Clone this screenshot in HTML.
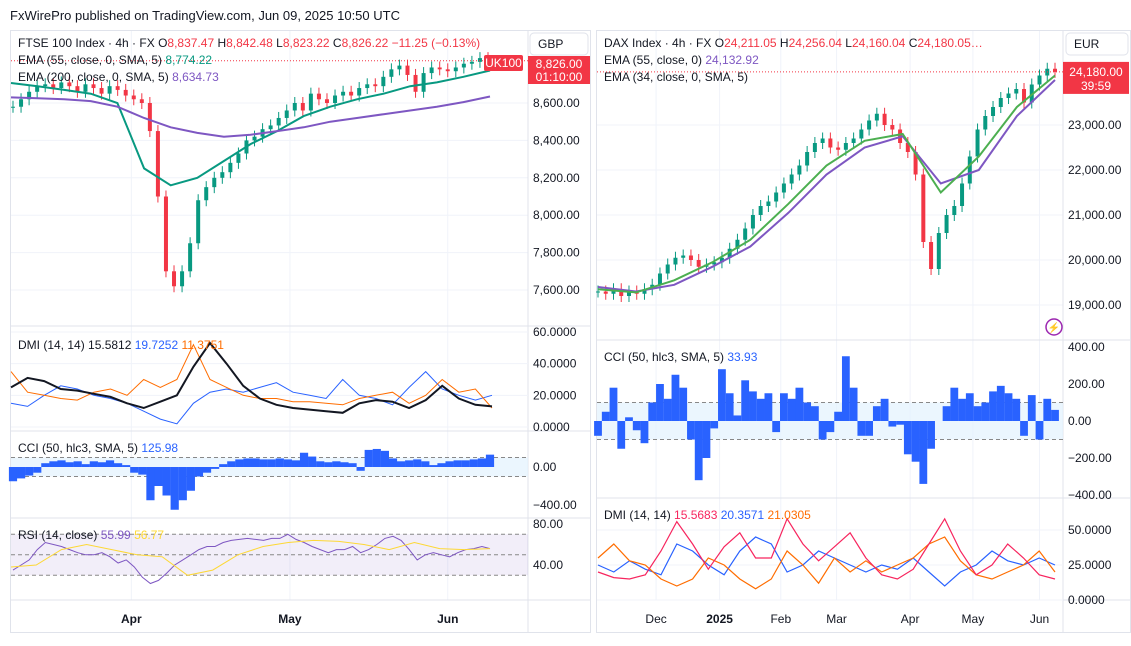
<!DOCTYPE html>
<html><head><meta charset="utf-8"><style>
body{margin:0;background:#fff;font-family:"Liberation Sans",sans-serif}
svg text{font-family:"Liberation Sans",sans-serif}
</style></head><body>
<svg id="s" width="1131" height="641" viewBox="0 0 1131 641" xmlns="http://www.w3.org/2000/svg">
<rect width="1131" height="641" fill="#fff"/>
<text x="10" y="20" font-size="13" fill="#131722">FxWirePro published on TradingView.com, Jun 09, 2025 10:50 UTC</text>
<rect x="10.5" y="30.5" width="580" height="602" fill="none" stroke="#e0e3eb"/>
<rect x="596.5" y="30.5" width="534" height="602" fill="none" stroke="#e0e3eb"/>
<g id="g"></g>
</svg>
<script>
// ---------- FTSE data ----------
const ftseClose=[8580,8620,8660,8690,8700,8680,8710,8690,8660,8700,8680,8650,8690,8670,8640,8620,8600,8450,8100,7700,7620,7700,7850,8080,8150,8200,8230,8280,8330,8400,8420,8460,8480,8520,8560,8600,8560,8650,8620,8600,8640,8660,8640,8680,8700,8690,8740,8780,8800,8750,8660,8760,8790,8780,8770,8790,8810,8820,8840,8826];
const ftseEma55=[8707,8690,8670,8650,8600,8250,8160,8200,8290,8380,8450,8530,8580,8620,8650,8690,8710,8740,8774];
const ftseEma200=[8630,8625,8620,8610,8580,8520,8470,8440,8420,8430,8450,8470,8500,8520,8540,8560,8580,8605,8635];
const ftseAdx=[25,31,29,24,23,21,19,15,12,16,20,38,53,40,26,18,14,12,11,10,9,15,17,16,12,17,26,18,14,13];
const ftsePdi=[15,13,20,26,24,20,18,15,10,5,2,15,22,24,22,25,28,22,20,18,30,20,18,14,25,35,24,20,17,20];
const ftseMdi=[35,22,20,18,17,22,24,20,30,25,30,52,30,25,20,18,18,16,16,15,14,18,20,22,15,20,30,22,24,12];
const ftseCci=[-150,-120,-90,-60,40,60,70,50,60,30,60,50,70,40,20,-60,-80,-350,-200,-300,-450,-350,-250,-100,-60,-20,30,60,80,90,90,80,80,90,80,70,150,110,60,50,60,50,40,-40,180,190,170,90,60,70,80,60,20,40,60,70,70,80,90,130];
const ftseRsi=[35,40,45,55,62,60,58,55,52,50,50,52,48,42,45,38,28,22,25,32,40,45,50,55,58,58,62,64,65,66,65,64,66,66,70,65,62,58,55,52,55,55,58,52,55,60,66,68,64,55,45,50,52,50,48,52,55,56,58,56];
const ftseRsiMa=[38,40,55,60,55,50,48,30,35,50,58,62,64,63,60,55,62,56,55,56];
const ftseTicks=[8600,8400,8200,8000,7800,7600];
const ftseMonths=[["Apr",14.7],["May",34.4],["Jun",54]];
// ---------- DAX data ----------
const daxClose=[19300,19250,19350,19200,19300,19250,19350,19450,19700,19900,20050,20100,20000,19850,19900,19950,20050,20250,20450,20700,21000,21200,21300,21500,21700,21900,22100,22400,22600,22700,22500,22450,22600,22700,22900,23100,23250,23000,22900,22600,22400,21900,20400,19800,20600,21000,21200,21700,22300,22900,23200,23400,23600,23700,23800,23500,23900,24100,24250,24180];
const daxEma34=[19350,19280,19550,19950,20450,21250,22100,22650,22800,21500,22300,23400,24100];
const daxEma55=[19400,19300,19450,19850,20300,21050,21900,22500,22750,21700,22000,23200,24000];
const daxCci=[-80,50,180,-150,20,-50,-120,100,200,120,250,180,-100,-320,-200,-40,280,150,30,220,160,120,150,-60,150,120,180,100,80,-100,-60,50,350,180,-80,-80,80,120,-30,-20,-180,-220,-340,-150,0,80,180,120,150,80,100,160,190,150,120,-80,140,-100,120,60];
const daxAdx=[20,16,15,18,35,56,40,22,38,48,30,30,58,40,28,38,48,30,18,15,22,40,58,35,18,25,40,30,18,15];
const daxPdi=[25,20,28,22,18,40,35,25,18,35,45,40,20,25,35,30,25,20,25,22,30,20,10,20,25,35,28,25,30,25];
const daxMdi=[30,40,28,25,15,10,15,30,25,15,8,15,35,25,12,30,20,28,20,25,30,40,45,28,18,15,20,25,35,20];
const daxTicks=[23000,22000,21000,20000,19000];
const daxMonths=[["Dec",7.5],["2025",15.7],["Feb",23.6],["Mar",30.8],["Apr",40.3],["May",48.4],["Jun",57]];

const NS="http://www.w3.org/2000/svg";
const G=document.getElementById('g');
function el(tag,attrs,parent){const e=document.createElementNS(NS,tag);for(const k in attrs)e.setAttribute(k,attrs[k]);(parent||G).appendChild(e);return e;}
function txt(x,y,s,fill,size,anchor,weight){const t=el('text',{x:x,y:y,fill:fill,'font-size':size||12,'text-anchor':anchor||'start','font-weight':weight||'normal'});t.textContent=s;return t;}
function lin(a,b,c,d){return v=>c+(v-a)*(d-c)/(b-a);}
function poly(arr,xf,yf,color,w){let d='';arr.forEach((v,i)=>{d+=(i?'L':'M')+xf(i).toFixed(1)+','+yf(v).toFixed(1);});return el('path',{d:d,fill:'none',stroke:color,'stroke-width':w||1});}
function hline(x1,x2,y,c,dash){return el('line',{x1:x1,x2:x2,y1:y,y2:y,stroke:c,'stroke-dasharray':dash||'none'});}
function vline(x,y1,y2,c){return el('line',{x1:x,x2:x,y1:y1,y2:y2,stroke:c});}

// ===== FTSE panel =====
const fx=lin(0,59,13,488);
const fy=lin(8600,7600,103,290);
const fgrid='#f0f3fa';
ftseMonths.forEach(m=>{vline(fx(m[1]),31,600,fgrid);});
ftseTicks.forEach(t=>{hline(11,528,fy(t),fgrid);const l=txt(533,fy(t)+4,t.toLocaleString('en-US',{minimumFractionDigits:2}),'#131722',12);

});
[326,431,518,600].forEach(y=>hline(11,590,y,'#e0e3eb'));
vline(528,31,632,'#e0e3eb');
ftseClose.forEach((c,i)=>{const o=i?ftseClose[i-1]:c;const up=c>=o;const col=up?'#089981':'#f23645';const x=fx(i);
const y1=fy(Math.max(o,c)),y2=fy(Math.min(o,c));
const w=el('line',{x1:x,x2:x,y1:y1-6,y2:y2+6,stroke:col});


const r=el('rect',{x:x-2,y:y1,width:4,height:Math.max(1,y2-y1),fill:col});

});
const fex=lin(0,ftseEma55.length-1,11,490);
const e1=poly(ftseEma55,fex,fy,'#089981',2);


const fex2=lin(0,ftseEma200.length-1,11,490);
const e2=poly(ftseEma200,fex2,fy,'#7e57c2',2);


const lastF=ftseClose[ftseClose.length-1];
hline(11,528,fy(lastF),'#f23645','1,2');
el('rect',{x:484,y:55,width:39,height:16,fill:'#f23645',rx:2});
txt(503.5,67,'UK100','#fff',12,'middle');
el('rect',{x:528,y:56,width:62,height:28,fill:'#f23645'});
txt(559,68,lastF.toLocaleString('en-US',{minimumFractionDigits:2}),'#fff',12,'middle');
txt(559,81,'01:10:00','#fff',12,'middle');
el('rect',{x:530,y:33,width:58,height:22,fill:'#fff',stroke:'#e0e3eb',rx:4});
txt(538,48,'GBP','#131722',12);
let t=txt(18,47,'FTSE 100 Index · 4h · FX  ','#131722',12);
[['O','8,837.47'],['H','8,842.48'],['L','8,823.22'],['C','8,826.22']].forEach(p=>{const a=el('tspan',{fill:'#131722'},t);a.textContent=p[0];const b=el('tspan',{fill:'#f23645'},t);b.textContent=p[1]+'  ';});
const ch=el('tspan',{fill:'#f23645'},t);ch.textContent='−11.25 (−0.13%)';


t=txt(18,64,'EMA (55, close, 0, SMA, 5)  ','#131722',12);el('tspan',{fill:'#089981'},t).textContent='8,774.22';
t=txt(18,81,'EMA (200, close, 0, SMA, 5)  ','#131722',12);el('tspan',{fill:'#7e57c2'},t).textContent='8,634.73';
// DMI
const dy=lin(0,60,427,332);
[60,40,20,0].forEach(v=>{hline(11,528,dy(v),fgrid);txt(533,dy(v)+4,v.toFixed(4),'#131722',12);});
const dxl=lin(0,29,11,492);
let p=poly(ftsePdi,dxl,dy,'#2962ff',1);
p=poly(ftseMdi,dxl,dy,'#ff6d00',1);
p=poly(ftseAdx,dxl,dy,'#131722',2);
t=txt(18,349,'DMI (14, 14)  15.5812  ','#131722',12);el('tspan',{fill:'#2962ff'},t).textContent='19.7252  ';el('tspan',{fill:'#ff6d00'},t).textContent='11.3751';
// CCI
const cy=lin(0,-400,467,505);
el('rect',{x:11,y:cy(100),width:517,height:cy(-100)-cy(100),fill:'#e3f2fd',opacity:0.7});
hline(11,528,cy(100),'#888','4,3');hline(11,528,cy(-100),'#888','4,3');
txt(533,cy(0)+4,'0.00','#131722',12);txt(533,cy(-400)+4,'−400.00','#131722',12);
const cxl=lin(0,59,13,490);
ftseCci.forEach((v,i)=>{const y0=cy(0),y1=cy(v);const r=el('rect',{x:cxl(i)-4.1,y:Math.min(y0,y1),width:8.2,height:Math.abs(y1-y0),fill:'#2962ff'});

});
t=txt(18,452,'CCI (50, hlc3, SMA, 5)  ','#131722',12);el('tspan',{fill:'#2962ff'},t).textContent='125.98';
// RSI
const ry=lin(80,40,524,565);
el('rect',{x:11,y:ry(70),width:517,height:ry(30)-ry(70),fill:'#7e57c2',opacity:0.1});
[70,50,30].forEach(v=>hline(11,528,ry(v),'#888','4,3'));
txt(533,ry(80)+4,'80.00','#131722',12);txt(533,ry(40)+4,'40.00','#131722',12);
p=poly(ftseRsi,cxl,ry,'#7e57c2',1);
p=poly(ftseRsiMa,lin(0,ftseRsiMa.length-1,11,490),ry,'#fdd835',1);
t=txt(18,539,'RSI (14, close)  ','#131722',12);el('tspan',{fill:'#7e57c2'},t).textContent='55.99  ';el('tspan',{fill:'#fdd835'},t).textContent='56.77';
ftseMonths.forEach(m=>{const l=txt(fx(m[1]),623,m[0],'#131722',12,'middle','bold');});

// ===== DAX panel =====
const X=lin(0,59,598,1055);
const Y=lin(23000,19000,125,305);
daxMonths.forEach(m=>vline(X(m[1]),31,600,fgrid));
daxTicks.forEach(v=>{hline(597,1063,Y(v),fgrid);const l=txt(1068,Y(v)+4,v.toLocaleString('en-US',{minimumFractionDigits:2}),'#131722',12);});
[340,498,600].forEach(y=>hline(597,1131,y,'#e0e3eb'));
vline(1063,31,632,'#e0e3eb');
daxClose.forEach((c,i)=>{const o=i?daxClose[i-1]:c;const up=c>=o;const col=up?'#089981':'#f23645';const x=X(i);
const y1=Y(Math.max(o,c)),y2=Y(Math.min(o,c));
const w=el('line',{x1:x,x2:x,y1:y1-6,y2:y2+6,stroke:col});


const r=el('rect',{x:x-2,y:y1,width:4,height:Math.max(1,y2-y1),fill:col});

});
const dex=lin(0,12,598,1055);
p=poly(daxEma55,dex,Y,'#7e57c2',2);
p=poly(daxEma34,dex,Y,'#4caf50',2);
const lastD=daxClose[daxClose.length-1];
hline(597,1063,Y(lastD),'#f23645','1,2');
el('rect',{x:1063,y:Y(lastD)-10,width:66,height:32,fill:'#f23645'});
txt(1096,Y(lastD)+4,lastD.toLocaleString('en-US',{minimumFractionDigits:2}),'#fff',12,'middle');
txt(1096,Y(lastD)+18,'39:59','#fff',12,'middle');
el('rect',{x:1066,y:33,width:62,height:22,fill:'#fff',stroke:'#e0e3eb',rx:4});
txt(1074,48,'EUR','#131722',12);
t=txt(604,47,'DAX Index · 4h · FX  ','#131722',12);
[['O','24,211.05'],['H','24,256.04'],['L','24,160.04'],['C','24,180.05…']].forEach(q=>{const a=el('tspan',{fill:'#131722'},t);a.textContent=q[0];const b=el('tspan',{fill:'#f23645'},t);b.textContent=q[1]+'  ';});


t=txt(604,64,'EMA (55, close, 0)  ','#131722',12);el('tspan',{fill:'#7e57c2'},t).textContent='24,132.92';
txt(604,81,'EMA (34, close, 0, SMA, 5)','#131722',12);
const ic=el('circle',{cx:1054,cy:327,r:8,fill:'none',stroke:'#9c27b0','stroke-width':1.5});


txt(1054,331,'⚡','#9c27b0',10,'middle');
// DAX CCI
const CY=lin(0,200,421,384);
el('rect',{x:597,y:CY(100),width:466,height:CY(-100)-CY(100),fill:'#e3f2fd',opacity:0.7});
hline(597,1063,CY(100),'#888','4,3');hline(597,1063,CY(-100),'#888','4,3');
[400,200,0,-200,-400].forEach(v=>txt(1068,CY(v)+4,(v<0?'−':'')+Math.abs(v).toFixed(2),'#131722',12));
daxCci.forEach((v,i)=>{const y0=CY(0),y1=CY(v);const r=el('rect',{x:X(i)-3.9,y:Math.min(y0,y1),width:7.8,height:Math.abs(y1-y0),fill:'#2962ff'});

});
t=txt(604,361,'CCI (50, hlc3, SMA, 5)  ','#131722',12);el('tspan',{fill:'#2962ff'},t).textContent='33.93';
// DAX DMI
const DY=lin(0,50,600,530);
[50,25,0].forEach(v=>{hline(597,1063,DY(v),fgrid);txt(1068,DY(v)+4,v.toFixed(4),'#131722',12);});
const DX=lin(0,29,598,1055);
p=poly(daxPdi,DX,DY,'#2962ff',1.2);
p=poly(daxMdi,DX,DY,'#ff6d00',1.2);
p=poly(daxAdx,DX,DY,'#f7255e',1.2);
t=txt(604,519,'DMI (14, 14)  ','#131722',12);el('tspan',{fill:'#f7255e'},t).textContent='15.5683  ';el('tspan',{fill:'#2962ff'},t).textContent='20.3571  ';el('tspan',{fill:'#ff6d00'},t).textContent='21.0305';
daxMonths.forEach(m=>{const l=txt(X(m[1]),623,m[0],'#131722',12,'middle',m[0]==='2025'?'bold':'normal');});
</script>
</body></html>
